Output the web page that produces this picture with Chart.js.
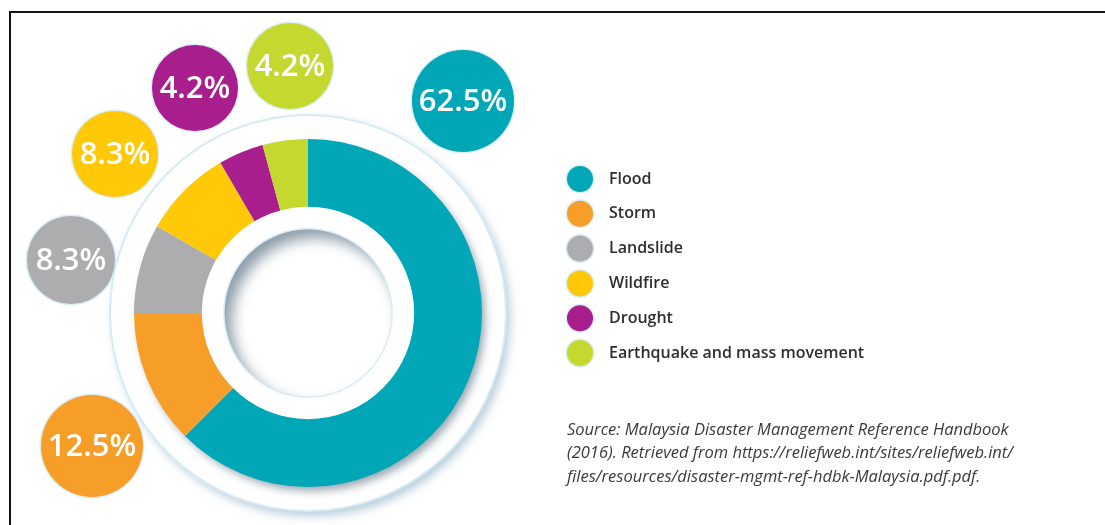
<!DOCTYPE html>
<html>
<head>
<meta charset="utf-8">
<script src="https://cdn.jsdelivr.net/npm/chart.js@4.4.1/dist/chart.umd.min.js"></script>
<style>
  html, body { margin: 0; padding: 0; background: #fff; }
  #wrap { position: relative; width: 1105px; height: 525px; overflow: hidden; }
  #frame { position: absolute; left: 9px; top: 11px; right: -10px; bottom: -10px;
           border-top: 2px solid #111; border-left: 2px solid #111; pointer-events: none; }
</style>
</head>
<body>
<div id="wrap">
  <canvas id="myChart" width="1105" height="525"></canvas>
  <div id="frame"></div>
</div>
<script>
var hazards = ['Flood', 'Storm', 'Landslide', 'Wildfire', 'Drought', 'Earthquake and mass movement'];
var shares = [62.5, 12.5, 8.3, 8.3, 4.2, 4.2];
var colours = ['#01a7b7', '#f79e29', '#adadb0', '#ffc908', '#a81e8c', '#c5d82f'];

var sourceLines = [
    'Source: Malaysia Disaster Management Reference Handbook',
    '(2016). Retrieved from https://reliefweb.int/sites/reliefweb.int/',
    'files/resources/disaster-mgmt-ref-hdbk-Malaysia.pdf.pdf.'
];

// where each percentage bubble sits, relative to the ring centre
var bubbleOffsets = [[155, -212], [-216, 133], [-237, -53], [-193, -159], [-113, -225], [-18, -247]];
var bubbleRadius = [51, 51, 44, 43, 43, 43];

function circle(ctx, x, y, r) {
    ctx.beginPath();
    ctx.arc(x, y, r, 0, Math.PI * 2);
}

var decorations = {
    id: 'decorations',
    beforeDatasetsDraw: function (chart) {
        var ctx = chart.ctx;
        var arc = chart.getDatasetMeta(0).data[0];
        var cx = arc.x, cy = arc.y, R = arc.outerRadius;

        // white outer ring with a soft shadow
        ctx.save();
        ctx.shadowColor = 'rgba(110,155,185,0.5)';
        ctx.shadowBlur = 10;
        ctx.shadowOffsetX = 4;
        ctx.shadowOffsetY = 5;
        circle(ctx, cx, cy, R + 24);
        ctx.fillStyle = '#fff';
        ctx.fill();
        ctx.restore();
        ctx.save();
        circle(ctx, cx, cy, R + 24);
        ctx.strokeStyle = '#d6ebf4';
        ctx.lineWidth = 2;
        ctx.stroke();
        ctx.restore();

        // shadow under the doughnut itself
        ctx.save();
        ctx.shadowColor = 'rgba(70,95,115,0.55)';
        ctx.shadowBlur = 9;
        ctx.shadowOffsetX = 4;
        ctx.shadowOffsetY = 5;
        circle(ctx, cx, cy, R - 1);
        ctx.fillStyle = '#fff';
        ctx.fill();
        ctx.restore();
    },
    afterDatasetsDraw: function (chart) {
        var ctx = chart.ctx;
        var meta = chart.getDatasetMeta(0);
        var arc = meta.data[0];
        var cx = arc.x, cy = arc.y, r = arc.innerRadius - 22;

        // recessed centre: inset shadow falling from the top-left
        ctx.save();
        circle(ctx, cx, cy, r);
        ctx.clip();
        ctx.fillStyle = '#fff';
        ctx.fillRect(cx - r, cy - r, r * 2, r * 2);
        ctx.shadowColor = 'rgba(80,105,125,0.65)';
        ctx.shadowBlur = 14;
        ctx.shadowOffsetX = 8;
        ctx.shadowOffsetY = 9;
        ctx.beginPath();
        ctx.rect(cx - r - 60, cy - r - 60, r * 2 + 120, r * 2 + 120);
        ctx.arc(cx, cy, r, 0, Math.PI * 2, true);
        ctx.fillStyle = '#fff';
        ctx.fill('evenodd');
        ctx.restore();
        ctx.save();
        circle(ctx, cx, cy, r);
        ctx.strokeStyle = '#d9edf6';
        ctx.lineWidth = 1.5;
        ctx.stroke();
        ctx.restore();

        // percentage bubbles
        ctx.save();
        ctx.textAlign = 'center';
        ctx.textBaseline = 'middle';
        meta.data.forEach(function (el, i) {
            var bx = cx + bubbleOffsets[i][0];
            var by = cy + bubbleOffsets[i][1];
            var br = bubbleRadius[i];
            circle(ctx, bx, by, br + 1.5);
            ctx.fillStyle = '#dcefF7';
            ctx.fill();
            circle(ctx, bx, by, br);
            ctx.fillStyle = colours[i];
            ctx.fill();
            ctx.fillStyle = '#fff';
            ctx.font = '600 31px "Open Sans"';
            ctx.fillText(shares[i].toFixed(1) + '%', bx, by + 1);
        });
        ctx.restore();

        // legend
        ctx.save();
        ctx.textAlign = 'left';
        ctx.textBaseline = 'middle';
        hazards.forEach(function (name, i) {
            var y = 179 + i * 34.8;
            circle(ctx, 580, y, 14.5);
            ctx.fillStyle = '#d8edf6';
            ctx.fill();
            circle(ctx, 580, y, 13);
            ctx.fillStyle = colours[i];
            ctx.fill();
            ctx.fillStyle = '#2e2e2e';
            ctx.font = '600 16px "Open Sans"';
            ctx.fillText(name, 609, y);
        });

        // source note
        ctx.fillStyle = '#3a3a3a';
        ctx.font = 'italic 16.5px "Open Sans"';
        sourceLines.forEach(function (line, i) {
            ctx.fillText(line, 567, 430 + i * 23.5);
        });
        ctx.restore();
    }
};

var ctx = document.getElementById('myChart').getContext('2d');
var myChart = new Chart(ctx, {
    type: 'doughnut',
    data: {
        labels: hazards,
        datasets: [{
            data: shares,
            backgroundColor: colours,
            borderWidth: 0,
            hoverOffset: 0
        }]
    },
    options: {
        responsive: false,
        animation: false,
        cutout: '61%',
        layout: {
            padding: { left: 134, top: 139, right: 623, bottom: 38 }
        },
        plugins: {
            legend: { display: false },
            tooltip: { enabled: false }
        }
    },
    plugins: [decorations]
});
</script>
</body>
</html>
